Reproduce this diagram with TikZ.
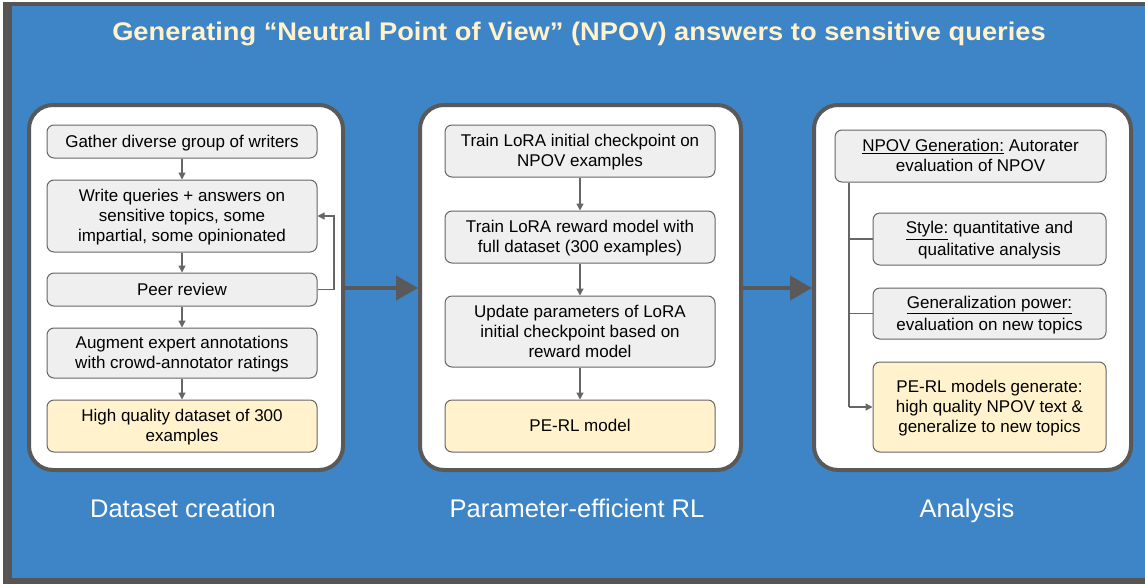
\documentclass[tikz,border=0pt]{standalone}
\usepackage{fontspec}
\usepackage{graphicx}
\setmainfont{Liberation Sans}
\usetikzlibrary{arrows.meta}
\definecolor{bgblue}{HTML}{3D85C6}
\definecolor{framegray}{HTML}{555555}
\definecolor{panelborder}{HTML}{595959}
\definecolor{boxfill}{HTML}{EFEFEF}
\definecolor{boxline}{HTML}{666666}
\definecolor{hlfill}{HTML}{FFF2CC}
\definecolor{titlecol}{HTML}{FFF2CC}
\newcommand\bxs{\rule[-0.212em]{0pt}{1.117em}}
\tikzset{
  panel/.style={draw=panelborder, line width=4pt, fill=white, rounded corners=24pt},
  stepbox/.style={draw=boxline, line width=1pt, fill=boxfill, rounded corners=7pt,
    align=center, inner sep=0pt, font=\fontsize{17}{20}\selectfont},
  hlbox/.style={stepbox, fill=hlfill},
  flow/.style={draw=boxline, line width=1.3pt, -{Triangle[length=7pt,width=7pt]}},
  tree/.style={draw=boxline, line width=1.3pt},
  bigarrow/.style={draw=panelborder, line width=4pt, -{Triangle[length=22pt,width=24pt]}},
  phase/.style={text=white, anchor=base, font=\fontsize{25.5}{30}\selectfont},
}
\begin{document}
\begin{tikzpicture}[x=1pt,y=-1pt]
\useasboundingbox (0,0) rectangle (1145,584);
\fill[white] (0,0) rectangle (1145,584);
\fill[framegray] (3,2) rectangle (1146,584);
\fill[bgblue] (12,6) rectangle (1146,578);

\node[text=titlecol, anchor=base, font=\fontsize{25.5}{30}\selectfont\bfseries] (title) at (579,40)
  {\scalebox{1.07}[1]{Generating “Neutral Point of View” (NPOV) answers to sensitive queries}};

% panels
\node[panel, minimum width=314pt, minimum height=365pt] (p1) at (186,287.5) {};
\node[panel, minimum width=321pt, minimum height=365pt] (p2) at (580.5,287.5) {};
\node[panel, minimum width=317pt, minimum height=365pt] (p3) at (972.5,287.5) {};

% panel 1
\node[stepbox, minimum width=270pt, minimum height=33pt] (gather) at (182,141.5) {\bxs Gather diverse group of writers\bxs};
\node[stepbox, minimum width=270pt, minimum height=72pt] (write) at (182,216) {\bxs Write queries + answers on\\sensitive topics, some\\impartial, some opinionated\bxs};
\node[stepbox, minimum width=270pt, minimum height=33pt] (peer) at (182,289.5) {\bxs Peer review\bxs};
\node[stepbox, minimum width=270pt, minimum height=50pt] (augment) at (182,353) {\bxs Augment expert annotations\\with crowd-annotator ratings\bxs};
\node[hlbox, minimum width=270pt, minimum height=52pt] (hq) at (182,426) {\bxs High quality dataset of 300\\examples\bxs};
\draw[flow] (gather) -- (write);
\draw[flow] (write) -- (peer);
\draw[flow] (peer) -- (augment);
\draw[flow] (augment) -- (hq);
\coordinate (loop) at (334,0);
\draw[flow] (peer.east) -- (peer.east -| loop) |- (write.east);

% panel 2
\node[stepbox, minimum width=270pt, minimum height=52pt] (t1) at (580,151) {\bxs Train LoRA initial checkpoint on\\NPOV examples\bxs};
\node[stepbox, minimum width=270pt, minimum height=52pt] (t2) at (580,237) {\bxs Train LoRA reward model with\\full dataset (300 examples)\bxs};
\node[stepbox, minimum width=270pt, minimum height=71pt] (upd) at (580,331.5) {\bxs Update parameters of LoRA\\initial checkpoint based on\\reward model\bxs};
\node[hlbox, minimum width=270pt, minimum height=52pt] (perl) at (580,426) {\bxs PE-RL model\bxs};
\draw[flow] (t1) -- (t2);
\draw[flow] (t2) -- (upd);
\draw[flow] (upd) -- (perl);

% panel 3
\node[stepbox, minimum width=271pt, minimum height=52pt] (npov) at (970.5,156) {\bxs\underline{NPOV Generation:} Autorater\\evaluation of NPOV\bxs};
\node[stepbox, minimum width=233pt, minimum height=52pt] (style) at (989.5,239) {\bxs\underline{Style:} quantitative and\\qualitative analysis\bxs};
\node[stepbox, minimum width=233pt, minimum height=51pt] (gen) at (989.5,313.5) {\bxs\underline{Generalization power:}\\evaluation on new topics\bxs};
\node[hlbox, minimum width=233pt, minimum height=90pt] (pgen) at (989.5,407) {\bxs PE-RL models generate:\\high quality NPOV text \&\\generalize to new topics\bxs};
\coordinate (trunk) at (849,0);
\draw[tree] (npov.south -| trunk) -- (trunk |- pgen.west);
\draw[flow] (trunk |- pgen.west) -- (pgen.west);
\draw[tree] (trunk |- style.west) -- (style.west);
\draw[tree] (trunk |- gen.west) -- (gen.west);

% big arrows
\draw[bigarrow] (p1.east |- 0,288) -- (p2.west |- 0,288);
\draw[bigarrow] (p2.east |- 0,288) -- (p3.west |- 0,288);

% phase labels
\node[phase] (l1) at (183,517) {Dataset creation};
\node[phase] (l2) at (577,517) {Parameter-efficient RL};
\node[phase] (l3) at (967,517) {Analysis};
\end{tikzpicture}
\end{document}
